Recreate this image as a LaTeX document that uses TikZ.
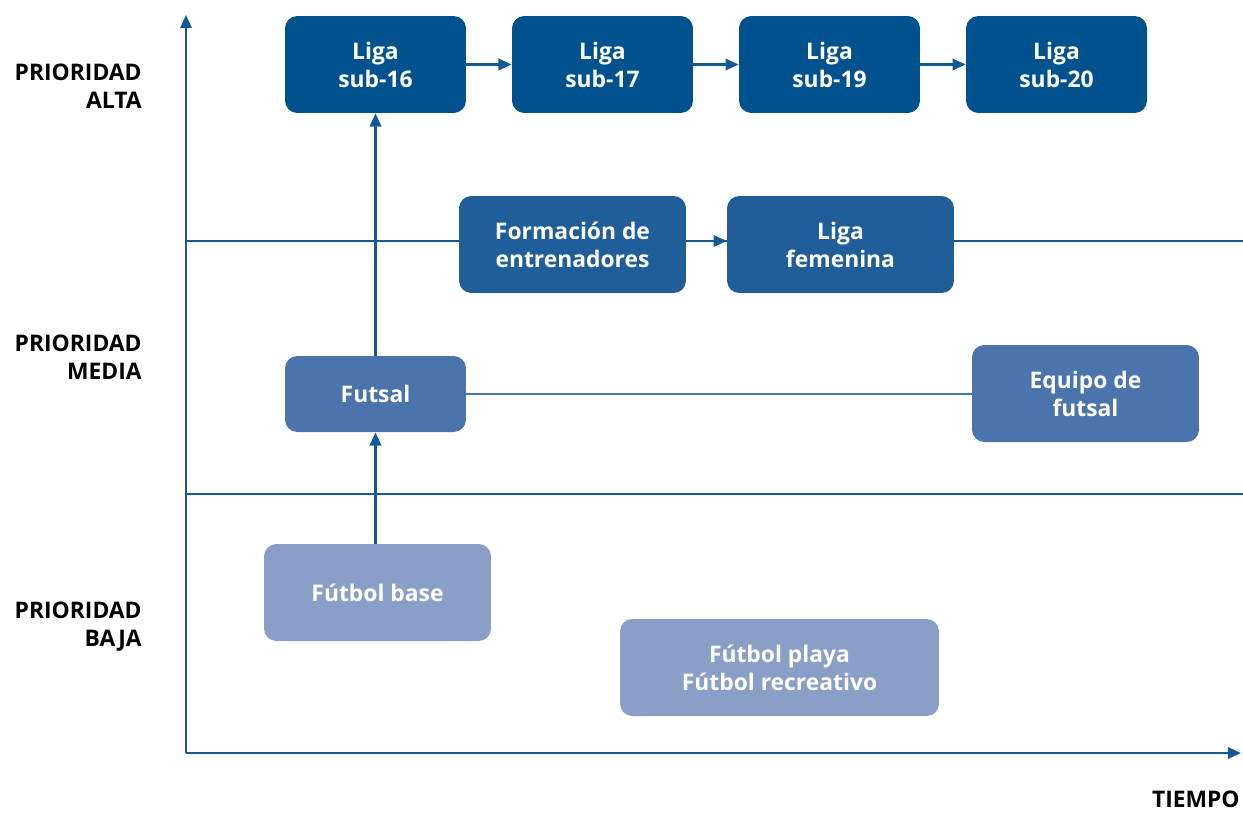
\documentclass[tikz,border=0pt]{standalone}
\usepackage{fontspec}
\setmainfont{Open Sans}
\usetikzlibrary{arrows.meta}
\definecolor{bluedark}{RGB}{0,82,143}
\definecolor{bluemid}{RGB}{31,94,153}
\definecolor{bluesoft}{RGB}{74,116,171}
\definecolor{bluepale}{RGB}{138,159,199}
\definecolor{axisblue}{RGB}{20,88,150}
\begin{document}
\begin{tikzpicture}[x=0.02cm,y=-0.02cm,
  box/.style={rounded corners=7pt,draw=none,text=white,align=center,
    font=\bfseries\fontsize{13}{16}\selectfont,inner sep=0pt},
  wide/.style={box,minimum width=4.54cm,minimum height=1.94cm},
  narrow/.style={box,minimum width=3.62cm,minimum height=1.94cm},
  prio/.style={align=right,anchor=east,inner sep=0pt,font=\bfseries\fontsize{13}{16}\selectfont},
  axis/.style={axisblue,line width=1.3pt},
  tip/.style={-{Triangle[length=7.5pt,width=6.5pt]}},
]
\useasboundingbox (0,0) rectangle (1243,812);

% axes
\coordinate (o) at (186,753);
\coordinate (ytop) at (186,15);
\coordinate (xend) at (1241,753);
\draw[axis,tip] (o) -- (ytop);
\draw[axis,tip] (o) -- (xend);

% band separators
\coordinate (s1a) at (186,241);
\coordinate (s1b) at (1243,241);
\coordinate (s2a) at (186,494);
\coordinate (s2b) at (1243,494);
\draw[axis] (s1a) -- (s1b);
\draw[axis] (s2a) -- (s2b);

% priority labels
\node[prio] (alta) at (142,86) {PRIORIDAD\\ALTA};
\node[prio] (media) at (142,357) {PRIORIDAD\\MEDIA};
\node[prio] (baja) at (142,627) {PRIORIDAD\\BAJA};
\node[prio,anchor=base east] (tiempo) at (1240,807) {TIEMPO};

% high priority
\node[narrow,fill=bluedark] (s16) at (375.5,64.5) {Liga\\sub-16};
\node[narrow,fill=bluedark] (s17) at (602.5,64.5) {Liga\\sub-17};
\node[narrow,fill=bluedark] (s19) at (829.5,64.5) {Liga\\sub-19};
\node[narrow,fill=bluedark] (s20) at (1056.5,64.5) {Liga\\sub-20};

% middle band
\node[wide,fill=bluemid] (form) at (572.5,244.5) {Formación de\\entrenadores};
\node[wide,fill=bluemid] (fem) at (840.5,244.5) {Liga\\femenina};
\node[narrow,fill=bluesoft,minimum height=1.52cm] (futsal) at (375.5,394) {Futsal};
\node[wide,fill=bluesoft] (equipo) at (1085.5,393.5) {Equipo de\\futsal};

% low priority
\node[wide,fill=bluepale] (base) at (377.5,592.5) {Fútbol base};
\node[box,fill=bluepale,minimum width=6.38cm,minimum height=1.94cm] (playa) at (779.5,667.5) {Fútbol playa\\Fútbol recreativo};

% connectors
\draw[axis,tip] (s16) -- (s17);
\draw[axis,tip] (s17) -- (s19);
\draw[axis,tip] (s19) -- (s20);
\draw[axis,tip] (form.east |- s1a) -- (fem.west |- s1a);
\draw[axis,tip] (futsal.north) -- (s16.south);
\draw[axis,tip] (base.north -| futsal) -- (futsal.south);
\draw[bluesoft,line width=0.7pt] (futsal.east) -- (equipo.west |- futsal.east);
\end{tikzpicture}
\end{document}
